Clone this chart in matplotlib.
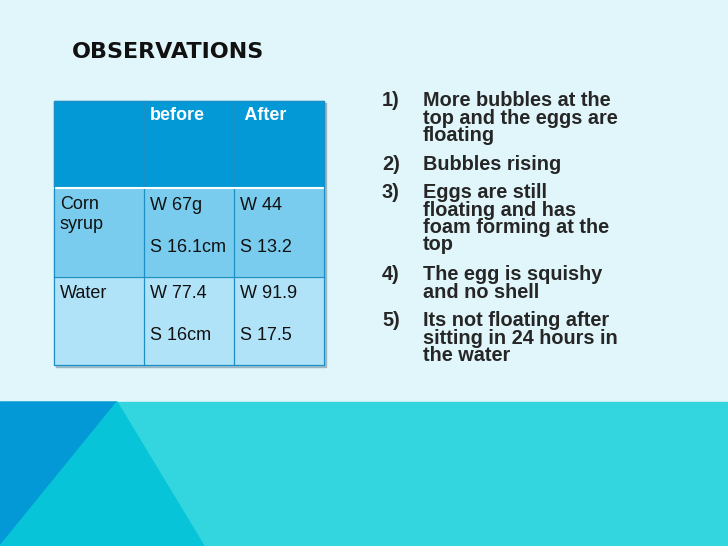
import matplotlib
matplotlib.use('Agg')
import matplotlib.pyplot as plt
import matplotlib.patches as mpatches

plt.rcParams['font.family'] = ['Liberation Sans', 'DejaVu Sans']

# ---- 数据 ----
COL_HEADERS = ['', 'before', ' After']
ROW_LABELS = ['Corn\nsyrup', 'Water']
BEFORE = [('W 67g', 'S 16.1cm'), ('W 77.4', 'S 16cm')]
AFTER = [('W 44', 'S 13.2'), ('W 91.9', 'S 17.5')]
NOTES = [
    'More bubbles at the\ntop and the eggs are\nfloating',
    'Bubbles rising',
    'Eggs are still\nfloating and has\nfoam forming at the\ntop',
    'The egg is squishy\nand no shell',
    'Its not floating after\nsitting in 24 hours in\nthe water',
]

fig = plt.figure(figsize=(7.28, 5.46), dpi=100)
ax = fig.add_axes([0, 0, 1, 1])
ax.set_xlim(0, 728)
ax.set_ylim(546, 0)
ax.axis('off')

# 背景
ax.add_patch(mpatches.Rectangle((0, 0), 728, 402, color='#E0F6FA', zorder=0))
ax.add_patch(mpatches.Rectangle((0, 402), 728, 144, color='#33D6DF', zorder=0))
ax.add_patch(mpatches.Polygon([(0, 402), (117, 402), (0, 546)], color='#0399D6', zorder=1))
ax.add_patch(mpatches.Polygon([(117, 402), (204, 546), (0, 546)], color='#08C4D8', zorder=1))

ax.text(72, 52, 'OBSERVATIONS', fontsize=16, fontweight='heavy', color='#111111',
        va='center', ha='left', family=['DejaVu Sans'])

# ---- 表格 ----
xs = [54, 144, 234, 324]
ys = [101, 188, 277, 365]
fills = ['#0399D6', '#7ACCEE', '#B0E2F8']
ax.add_patch(mpatches.Rectangle((56, 103), 270, 264, color='#9AB8C4', zorder=1))
for r in range(3):
    ax.add_patch(mpatches.Rectangle((xs[0], ys[r]), 270, ys[r + 1] - ys[r],
                                    color=fills[r], zorder=2))
for x in xs[1:-1]:
    ax.plot([x, x], [ys[0], ys[-1]], color='#1E8FC4', lw=0.9, zorder=3)
ax.plot([xs[0], xs[-1]], [ys[1], ys[1]], color='white', lw=1.5, zorder=3)
ax.plot([xs[0], xs[-1]], [ys[2], ys[2]], color='#1E8FC4', lw=0.9, zorder=3)
ax.add_patch(mpatches.Rectangle((xs[0], ys[0]), 270, ys[-1] - ys[0],
                                fill=False, edgecolor='#1E8FC4', lw=0.9, zorder=3))

FS = 13
for j, h in enumerate(COL_HEADERS):
    ax.text(xs[j] + 6, ys[0] + 15, h, fontsize=FS, fontweight='bold',
            color='white', va='center', zorder=4)
for i in range(2):
    ax.text(xs[0] + 6, ys[i + 1] + 8, ROW_LABELS[i], fontsize=FS, color='#111111',
            va='top', linespacing=1.25, zorder=4)
    for j, vals in ((1, BEFORE[i]), (2, AFTER[i])):
        ax.text(xs[j] + 6, ys[i + 1] + 17, vals[0], fontsize=FS, color='#111111',
                va='center', zorder=4)
        ax.text(xs[j] + 6, ys[i + 1] + 59, vals[1], fontsize=FS, color='#111111',
                va='center', zorder=4)

# ---- 右侧说明 ----
y = 91
for k, note in enumerate(NOTES):
    ax.text(382, y, f'{k + 1})', fontsize=14.3, fontweight='bold', color='#262626', va='top')
    ax.text(423, y, note, fontsize=14.3, fontweight='bold', color='#262626', va='top',
            linespacing=0.9)
    y += 18 * (note.count('\n') + 1) + 10

fig.savefig('out.png', dpi=100)
